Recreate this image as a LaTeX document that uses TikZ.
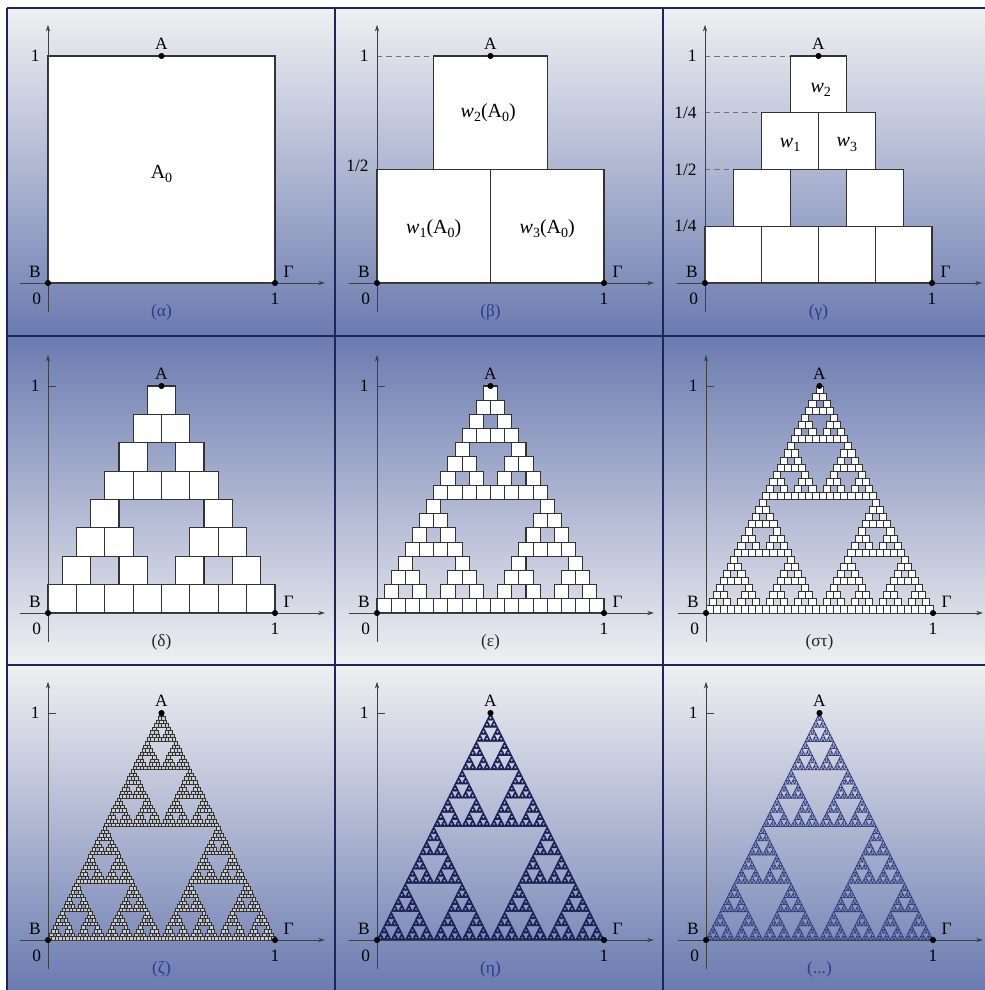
\documentclass[tikz,border=0pt]{standalone}
\usepackage{fontspec}
\setmainfont{Liberation Serif}
\usetikzlibrary{arrows.meta}

\definecolor{gridnavy}{HTML}{1E2558}
\definecolor{bluebg}{HTML}{6B7BB0}
\definecolor{lightbg}{HTML}{F0F0F2}
\definecolor{midbg}{HTML}{B6BDD9}
\definecolor{capblue}{HTML}{2A3B90}
\definecolor{sqline}{HTML}{333333}
\definecolor{trinavy}{HTML}{1C2258}
\definecolor{trimid}{HTML}{36427F}

\tikzset{
  axis/.style={draw=black!75, line width=0.55pt, -{Stealth[length=5pt,width=3.2pt]}},
  dot/.style={circle, fill=black, inner sep=0pt, minimum size=4.6pt},
  lbl/.style={font=\fontsize{13}{15}\selectfont, inner sep=1pt},
  inlbl/.style={font=\fontsize{15}{17}\selectfont, inner sep=1pt},
  sq/.style={fill=white, draw=sqline, line width=0.9pt},
  gridline/.style={draw=gridnavy, line width=1.5pt},
  dsh/.style={draw=black!55, line width=0.7pt, dash pattern=on 4pt off 3pt},
  tickmark/.style={draw=black!75, line width=0.55pt},
}

\newcommand\lw[1]{\raisebox{-0.45ex}{\fontsize{10.5}{10.5}\selectfont #1}}

\newcommand\sierp[4]{%
  \ifnum#1=0\relax
    \leafshape{#2}{#3}{#4}%
  \else
    \begingroup
    \pgfmathsetmacro\sierH{#4/2}%
    \pgfmathsetmacro\sierQ{#4/4}%
    \pgfmathtruncatemacro\sierL{#1-1}%
    \pgfmathsetmacro\sierXa{#2+\sierH}%
    \pgfmathsetmacro\sierXq{#2+\sierQ}%
    \pgfmathsetmacro\sierYh{#3+\sierH}%
    \edef\sierNext{\noexpand\sierp{\sierL}{#2}{#3}{\sierH}\noexpand\sierp{\sierL}{\sierXa}{#3}{\sierH}\noexpand\sierp{\sierL}{\sierXq}{\sierYh}{\sierH}}%
    \expandafter\endgroup\sierNext
  \fi}

\def\leafshape#1#2#3{\filldraw[sq] (#1,#2) rectangle ++(#3,#3);}

\newcommand\panelaxes[3]{%
  \coordinate (Yb#1) at (0,-0.128);
  \coordinate (Yt#1) at (0,1.137);
  \coordinate (Xl#1) at (-0.125,0);
  \coordinate (Xr#1) at (1.22,0);
  \draw[axis] (Yb#1) -- (Yt#1);
  \draw[axis] (Xl#1) -- (Xr#1);
  \node[dot] (A#1) at (0.5,1) {};
  \node[dot] (B#1) at (0,0) {};
  \node[dot] (G#1) at (1,0) {};
  \node[lbl] (lA#1) at (0.5,1.055) {A};
  \node[lbl] (lB#1) at (-0.058,0.05) {B};
  \node[lbl] (lG#1) at (1.06,0.05) {Γ};
  \node[lbl] (lO#1) at (-0.05,-0.07) {0};
  \node[lbl] (lX#1) at (1,-0.07) {1};
  \node[lbl,anchor=east] (lY#1) at (-0.03,1) {1};
  \node[lbl,text=#3] (cap#1) at (0.5,-0.13) {#2};
}

\begin{document}
\begin{tikzpicture}[x=0.75pt,y=-0.75pt]
\useasboundingbox (0,0) rectangle (985,990);
\fill[white] (0,0) rectangle (985,990);

% backgrounds
\shade[top color=lightbg, middle color=midbg, bottom color=bluebg] (7,8) rectangle (985,336);
\shade[top color=bluebg, middle color=midbg, bottom color=lightbg] (7,336) rectangle (985,665);
\shade[top color=lightbg, middle color=midbg, bottom color=bluebg] (7,665) rectangle (985,990);

% grid
\draw[gridline] (7,8) -- (985,8);
\draw[gridline] (7,336) -- (985,336);
\draw[gridline] (7,665) -- (985,665);
\draw[gridline] (7,8) -- (7,990);
\draw[gridline] (335,8) -- (335,990);
\draw[gridline] (663,8) -- (663,990);

% (alpha)
\begin{scope}[shift={(48,283)}, x=170.25pt, y=170.25pt]
  \sierp{0}{0}{0}{1}
  \node[inlbl] (a0) at (0.5,0.48) {A\lw{0}};
  \panelaxes{a}{(α)}{capblue}
\end{scope}

% (beta)
\begin{scope}[shift={(377,283)}, x=170.25pt, y=170.25pt]
  \draw[dsh] (0,1) -- (0.25,1);
  \sierp{1}{0}{0}{1}
  \node[inlbl] (bw2) at (0.49,0.75) {\textit{w}\lw{2}(A\lw{0})};
  \node[inlbl] (bw1) at (0.25,0.24) {\textit{w}\lw{1}(A\lw{0})};
  \node[inlbl] (bw3) at (0.75,0.24) {\textit{w}\lw{3}(A\lw{0})};
  \node[lbl,anchor=east] (bhalf) at (-0.03,0.515) {1/2};
  \panelaxes{b}{(β)}{capblue}
\end{scope}

% (gamma)
\begin{scope}[shift={(705,283)}, x=170.25pt, y=170.25pt]
  \draw[dsh] (0,1) -- (0.375,1);
  \draw[dsh] (0,0.75) -- (0.25,0.75);
  \draw[dsh] (0,0.5) -- (0.125,0.5);
  \sierp{2}{0}{0}{1}
  \node[inlbl] (cw2) at (0.51,0.85) {\textit{w}\lw{2}};
  \node[inlbl] (cw1) at (0.375,0.61) {\textit{w}\lw{1}};
  \node[inlbl] (cw3) at (0.625,0.61) {\textit{w}\lw{3}};
  \node[lbl,anchor=east] (cq1) at (-0.03,0.75) {1/4};
  \node[lbl,anchor=east] (ch) at (-0.03,0.5) {1/2};
  \node[lbl,anchor=east] (cq2) at (-0.03,0.25) {1/4};
  \panelaxes{c}{(γ)}{capblue}
\end{scope}

% (delta)
\begin{scope}[shift={(48,613)}, x=170.25pt, y=170.25pt]
  \sierp{3}{0}{0}{1}
  \draw[tickmark] (0,1) -- (0.035,1);
  \panelaxes{d}{(δ)}{black!85}
\end{scope}

% (epsilon)
\begin{scope}[shift={(377,613)}, x=170.25pt, y=170.25pt]
  \tikzset{sq/.style={fill=white, draw=sqline, line width=0.8pt}}
  \sierp{4}{0}{0}{1}
  \draw[tickmark] (0,1) -- (0.035,1);
  \panelaxes{e}{(ε)}{black!85}
\end{scope}

% (sigma tau)
\begin{scope}[shift={(706,613)}, x=170.25pt, y=170.25pt]
  \tikzset{sq/.style={fill=white, draw=sqline, line width=0.65pt}}
  \sierp{5}{0}{0}{1}
  \draw[tickmark] (0,1) -- (0.035,1);
  \panelaxes{f}{(στ)}{black!85}
\end{scope}

% (zeta)
\begin{scope}[shift={(48,940)}, x=170.25pt, y=170.25pt]
  \tikzset{sq/.style={fill=white!80!black, draw=black!80, line width=0.6pt}}
  \sierp{6}{0}{0}{1}
  \draw[tickmark] (0,1) -- (0.035,1);
  \panelaxes{g}{(ζ)}{capblue}
\end{scope}

% (eta)
\begin{scope}[shift={(377,940)}, x=170.25pt, y=170.25pt]
  \def\leafshape#1#2#3{\filldraw[fill=trinavy, draw=trinavy, line width=0.5pt, line join=round] (#1,#2) -- ++(#3,0) -- ++(-#3/2,#3) -- cycle;}
  \sierp{6}{0}{0}{1}
  \draw[tickmark] (0,1) -- (0.035,1);
  \panelaxes{h}{(η)}{capblue}
\end{scope}

% (...)
\begin{scope}[shift={(706,940)}, x=170.25pt, y=170.25pt]
  \def\leafshape#1#2#3{\draw[draw=trimid, line width=0.6pt, line join=round] (#1,#2) -- ++(#3,0) -- ++(-#3/2,#3) -- cycle;}
  \sierp{6}{0}{0}{1}
  \draw[tickmark] (0,1) -- (0.035,1);
  \panelaxes{i}{(...)}{capblue}
\end{scope}

\end{tikzpicture}
\end{document}
